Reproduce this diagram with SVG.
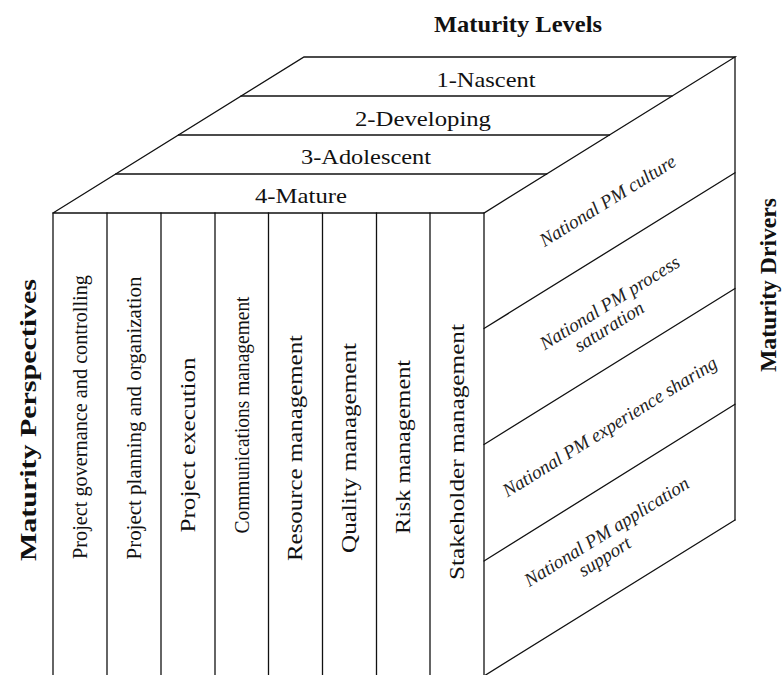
<svg xmlns="http://www.w3.org/2000/svg" width="784" height="675" viewBox="0 0 784 675">
<style>
  .ln { stroke:#111; stroke-width:1.3; fill:none; stroke-linecap:round; }
  .t { font-family:"Liberation Serif","Times New Roman",serif; font-size:21px; fill:#111; }
  .tc { text-anchor:middle; }
  .b { font-family:"Liberation Serif","Times New Roman",serif; font-weight:bold; font-size:24px; fill:#111; text-anchor:middle; }
  .it { font-family:"Liberation Serif","Times New Roman",serif; font-style:italic; font-size:19px; fill:#222; text-anchor:middle; }
</style>
<rect width="784" height="675" fill="#fff"/>

<g id="connectors">
  <!-- top face -->
  <polyline class="ln" points="53,213 304,57 735,57 484,213 53,213"/>
  <line class="ln" x1="241" y1="96" x2="672" y2="96"/>
  <line class="ln" x1="178.5" y1="135" x2="609.5" y2="135"/>
  <line class="ln" x1="115.75" y1="174" x2="546.75" y2="174"/>
  <!-- front face columns -->
  <line class="ln" x1="53" y1="213" x2="53" y2="675"/>
  <line class="ln" x1="107" y1="213" x2="107" y2="675"/>
  <line class="ln" x1="161" y1="213" x2="161" y2="675"/>
  <line class="ln" x1="215" y1="213" x2="215" y2="675"/>
  <line class="ln" x1="268.5" y1="213" x2="268.5" y2="675"/>
  <line class="ln" x1="322.5" y1="213" x2="322.5" y2="675"/>
  <line class="ln" x1="376.5" y1="213" x2="376.5" y2="675"/>
  <line class="ln" x1="430" y1="213" x2="430" y2="675"/>
  <line class="ln" x1="484" y1="213" x2="484" y2="676"/>
  <!-- right face -->
  <line class="ln" x1="735" y1="57" x2="735" y2="520"/>
  <line class="ln" x1="484" y1="328.5" x2="735" y2="172.75"/>
  <line class="ln" x1="484" y1="444.5" x2="735" y2="288.5"/>
  <line class="ln" x1="484" y1="561" x2="735" y2="404.25"/>
  <line class="ln" x1="484" y1="676" x2="735" y2="520"/>
</g>

<g id="label-levels"><text class="b" x="518" y="32" textLength="168" lengthAdjust="spacingAndGlyphs">Maturity Levels</text></g>
<g id="label-perspectives"><text class="b" transform="translate(36,420) rotate(-90)" x="0" y="0" textLength="282" lengthAdjust="spacingAndGlyphs">Maturity Perspectives</text></g>
<g id="label-drivers"><text class="b" transform="translate(776,285) rotate(-90)" x="0" y="0" textLength="174" lengthAdjust="spacingAndGlyphs">Maturity Drivers</text></g>

<g id="level-1"><text class="t tc" x="486" y="87" textLength="99" lengthAdjust="spacingAndGlyphs">1-Nascent</text></g>
<g id="level-2"><text class="t tc" x="423" y="126" textLength="136" lengthAdjust="spacingAndGlyphs">2-Developing</text></g>
<g id="level-3"><text class="t tc" x="366" y="164" textLength="130" lengthAdjust="spacingAndGlyphs">3-Adolescent</text></g>
<g id="level-4"><text class="t tc" x="301" y="203" textLength="92" lengthAdjust="spacingAndGlyphs">4-Mature</text></g>

<g id="persp-1"><text class="t tc" transform="translate(87,417) rotate(-90)" textLength="284" lengthAdjust="spacingAndGlyphs">Project governance and controlling</text></g>
<g id="persp-2"><text class="t tc" transform="translate(141,418) rotate(-90)" textLength="283" lengthAdjust="spacingAndGlyphs">Project planning and organization</text></g>
<g id="persp-3"><text class="t tc" transform="translate(195,445) rotate(-90)" textLength="175" lengthAdjust="spacingAndGlyphs">Project execution</text></g>
<g id="persp-4"><text class="t tc" transform="translate(248.5,415) rotate(-90)" textLength="237" lengthAdjust="spacingAndGlyphs">Communications management</text></g>
<g id="persp-5"><text class="t tc" transform="translate(302,448) rotate(-90)" textLength="226" lengthAdjust="spacingAndGlyphs">Resource management</text></g>
<g id="persp-6"><text class="t tc" transform="translate(356,448) rotate(-90)" textLength="210" lengthAdjust="spacingAndGlyphs">Quality management</text></g>
<g id="persp-7"><text class="t tc" transform="translate(410,447) rotate(-90)" textLength="174" lengthAdjust="spacingAndGlyphs">Risk management</text></g>
<g id="persp-8"><text class="t tc" transform="translate(464,452) rotate(-90)" textLength="256" lengthAdjust="spacingAndGlyphs">Stakeholder management</text></g>

<g id="driver-1"><text class="it" transform="translate(611,206) rotate(-31.86)">National PM culture</text></g>
<g id="driver-2"><text class="it" transform="translate(613,308) rotate(-31.86)"><tspan x="0" y="0">National PM process</tspan><tspan x="-13" y="20">saturation</tspan></text></g>
<g id="driver-3"><text class="it" transform="translate(613,432) rotate(-31.86)">National PM experience sharing</text></g>
<g id="driver-4"><text class="it" transform="translate(610,537) rotate(-31.86)"><tspan x="0" y="0">National PM application</tspan><tspan x="-15" y="20">support</tspan></text></g>
</svg>
